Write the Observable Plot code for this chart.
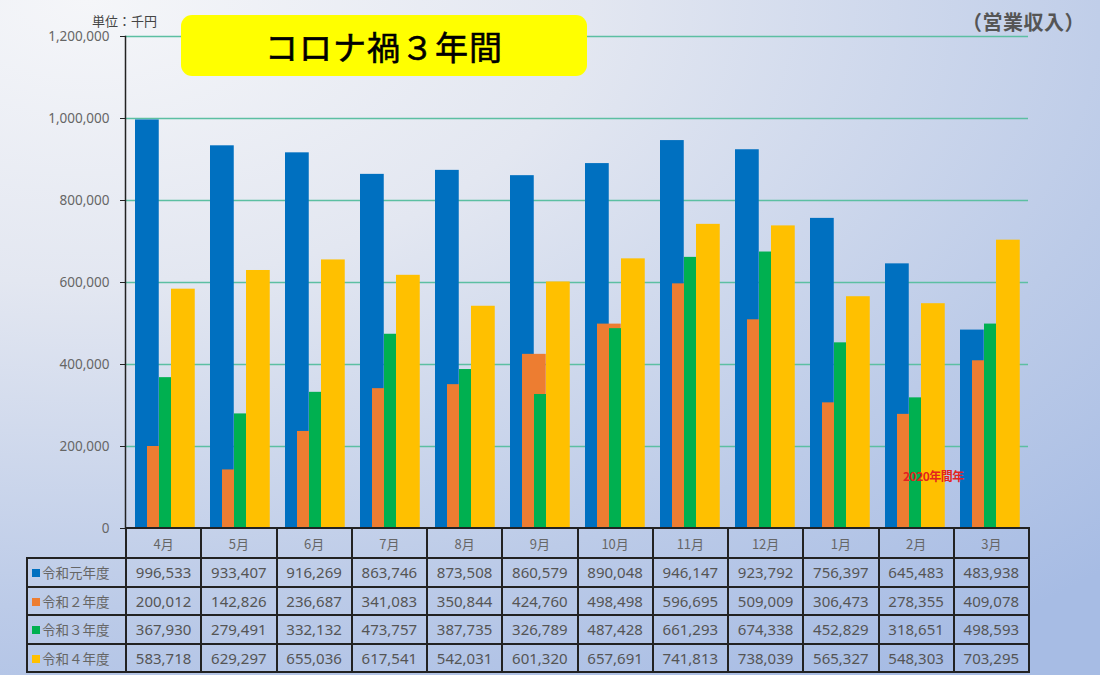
<!DOCTYPE html>
<html>
<head>
<meta charset="utf-8">
<script src="https://cdn.jsdelivr.net/npm/d3@7"></script>
<script src="https://cdn.jsdelivr.net/npm/@observablehq/plot@0.6"></script>
<style>
  body { margin: 0; }
  #wrap {
    position: relative; width: 1100px; height: 675px; overflow: hidden;
    background: radial-gradient(ellipse 130% 120% at 8% 0%, #f5f6f9 0%, #e3e7f1 35%, #bccbe8 75%, #a7bce4 100%);
    font-family: "Noto Sans", "Noto Sans CJK JP", sans-serif;
  }
  #chart { position: absolute; left: 0; top: 0; }
  .abs { position: absolute; white-space: nowrap; }
  #titlebox {
    left: 181px; top: 15px; width: 406px; height: 61px; background: #ffff00; border-radius: 11px;
    display: flex; align-items: center; justify-content: center;
    font-family: "Noto Sans CJK JP", sans-serif; font-size: 33px; font-weight: normal; color: #000; letter-spacing: 1px;
    -webkit-text-stroke: 0.6px #000;
  }
  #unit { left: 92px; top: 11px; font-size: 13px; color: #444; font-family: "Noto Sans CJK JP", sans-serif; }
  #kind { left: 962px; top: 7px; font-size: 20px; font-weight: bold; color: #555; letter-spacing: 0.5px; font-family: "Noto Sans CJK JP", sans-serif; }
  #note { left: 903px; top: 467px; font-size: 12px; font-weight: bold; color: #e3231f; font-family: "Noto Sans CJK JP", sans-serif; letter-spacing: -0.5px; }
  table {
    position: absolute; left: 26px; top: 527px; border-collapse: collapse; table-layout: fixed;
    font-size: 15px; color: #555;
  }
  td { border: 2px solid #222; text-align: center; padding: 0; }
  tr.head td { height: 28px; color: #666; font-size: 13px; font-family: "Noto Sans CJK JP", sans-serif; }
  tr.head td.blank { border: none; }
  tr.row td { height: 26.5px; }
  td.lab { text-align: left; padding-left: 4px; font-family: "Noto Sans CJK JP", sans-serif; font-size: 13.5px; color: #666; }
  .sq { display: inline-block; width: 8px; height: 8px; margin-right: 2px; vertical-align: 1px; }
</style>
</head>
<body>
<div id="wrap">
  <div id="chart"></div>
  <div id="titlebox" class="abs">コロナ禍３年間</div>
  <div id="unit" class="abs">単位：千円</div>
  <div id="kind" class="abs">（営業収入）</div>
  <div id="note" class="abs">2020年間年</div>
  <table id="tbl"></table>
</div>
<script>
const months = ["4月","5月","6月","7月","8月","9月","10月","11月","12月","1月","2月","3月"];
const seriesNames = ["令和元年度","令和２年度","令和３年度","令和４年度"];
const seriesColors = ["#0070c0","#ed7d31","#00b050","#ffc000"];
const reiwa1 = [996533, 933407, 916269, 863746, 873508, 860579, 890048, 946147, 923792, 756397, 645483, 483938];
const reiwa2 = [200012, 142826, 236687, 341083, 350844, 424760, 498498, 596695, 509009, 306473, 278355, 409078];
const reiwa3 = [367930, 279491, 332132, 473757, 387735, 326789, 487428, 661293, 674338, 452829, 318651, 498593];
const reiwa4 = [583718, 629297, 655036, 617541, 542031, 601320, 657691, 741813, 738039, 565327, 548303, 703295];
const yTicks = [0, 200000, 400000, 600000, 800000, 1000000, 1200000];

const seriesValues = [reiwa1, reiwa2, reiwa3, reiwa4];
const fmt = d3.format(",");

// overlapping bars: each series offset half a bar width within the month band
const insets = [[8, 43.25], [20, 31.25], [32, 19.25], [44, 7.25]];
const barMarks = seriesValues.map((vals, si) =>
  Plot.barY(months.map((m, i) => ({month: m, value: vals[i]})), {
    x: "month", y: "value", fill: seriesColors[si],
    insetLeft: insets[si][0], insetRight: insets[si][1]
  })
);

const chart = Plot.plot({
  width: 1100, height: 675,
  marginLeft: 125, marginRight: 72, marginTop: 36, marginBottom: 147,
  style: {background: "transparent", fontFamily: "'Noto Sans', sans-serif"},
  x: {domain: months, padding: 0, axis: null},
  y: {domain: [0, 1200000], axis: null},
  marks: [
    Plot.ruleY(yTicks.slice(1), {stroke: "#5cbfa2", strokeWidth: 1.3}),
    ...barMarks,
    Plot.axisY({ticks: yTicks, tickFormat: fmt, tickSize: 5, tickPadding: 11, fontSize: 13.5, fill: "#666", stroke: "#222", label: null}),
    Plot.frame({anchor: "left", stroke: "#222", strokeWidth: 1.5})
  ]
});
document.getElementById("chart").appendChild(chart);

// data table below the chart
const tbl = document.getElementById("tbl");
const colgroup = document.createElement("colgroup");
colgroup.innerHTML = `<col style="width:99px">` + months.map(() => `<col style="width:75.25px">`).join("");
tbl.appendChild(colgroup);
const head = document.createElement("tr");
head.className = "head";
head.innerHTML = `<td class="blank"></td>` + months.map(m => `<td>${m}</td>`).join("");
tbl.appendChild(head);
seriesNames.forEach((name, si) => {
  const tr = document.createElement("tr");
  tr.className = "row";
  tr.innerHTML = `<td class="lab"><span class="sq" style="background:${seriesColors[si]}"></span>${name}</td>` +
    seriesValues[si].map(v => `<td>${fmt(v)}</td>`).join("");
  tbl.appendChild(tr);
});
</script>
</body>
</html>
